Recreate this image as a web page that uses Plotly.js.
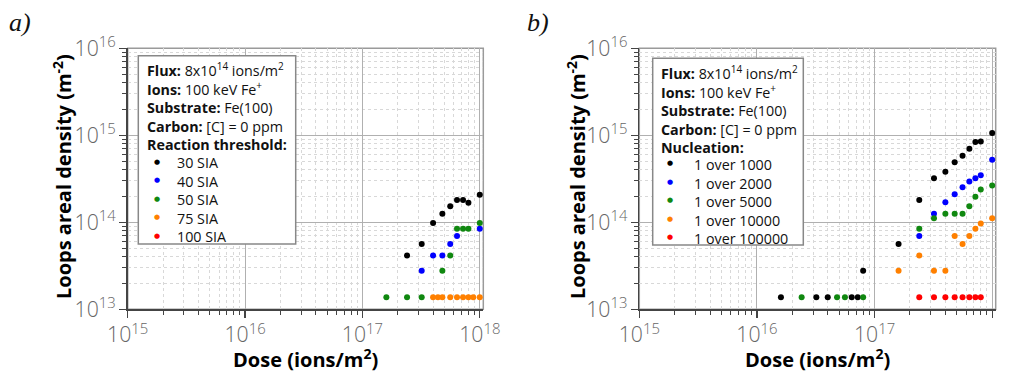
<!DOCTYPE html>
<html>
<head>
<meta charset="utf-8">
<script src="https://cdn.plot.ly/plotly-3.0.1.min.js"></script>
<style>html,body{margin:0;padding:0;background:#fff;}#chart{width:1012px;height:374px;}</style>
</head>
<body>
<div id="chart"></div>
<script>
// ---- Panel a) : reaction threshold ----
const thrNames = ["30 SIA", "40 SIA", "50 SIA", "75 SIA", "100 SIA"];
const thrDose30 = [2.4e17, 3.2e17, 4e17, 4.8e17, 5.6e17, 6.4e17, 7.2e17, 8e17, 1e18];
const thrLoops30 = [4.15e13, 5.62e13, 9.82e13, 1.257e14, 1.526e14, 1.81e14, 1.81e14, 1.68e14, 2.08e14];
const thrDose40 = [3.2e17, 4e17, 4.8e17, 5.6e17, 6.4e17, 1e18];
const thrLoops40 = [2.77e13, 4.15e13, 4.15e13, 5.62e13, 6.95e13, 8.44e13];
const thrDose50 = [1.6e17, 2.4e17, 3.2e17, 4.8e17, 5.6e17, 6.4e17, 7.2e17, 8e17, 1e18];
const thrLoops50 = [1.375e13, 1.375e13, 1.375e13, 2.77e13, 4.15e13, 8.44e13, 8.44e13, 8.44e13, 9.82e13];
const thrDose75 = [4e17, 4.4e17, 4.8e17, 5.6e17, 6.4e17, 7.2e17, 8e17, 8.8e17, 1e18];
const thrLoops75 = [1.375e13, 1.375e13, 1.375e13, 1.375e13, 1.375e13, 1.375e13, 1.375e13, 1.375e13, 1.375e13];
const thrDose100 = [];   // no visible points in panel a)
const thrLoops100 = [];
const thrHeader = ["<b>Flux:</b> 8x10<sup>14</sup> ions/m<sup>2</sup>", "<b>Ions:</b> 100 keV Fe<sup>+</sup>",
                   "<b>Substrate:</b> Fe(100)", "<b>Carbon:</b> [C] = 0 ppm", "<b>Reaction threshold:</b>"];

// ---- Panel b) : nucleation ----
const nucNames = ["1 over 1000", "1 over 2000", "1 over 5000", "1 over 10000", "1 over 100000"];
const nucDose1000 = [1.6e16, 3.2e16, 4e16, 6.4e16, 7.2e16, 8e16, 1.6e17, 2.4e17, 3.2e17, 4e17, 4.8e17, 5.6e17, 6.4e17, 7.2e17, 8e17, 1e18];
const nucLoops1000 = [1.375e13, 1.375e13, 1.375e13, 1.375e13, 1.375e13, 2.77e13, 5.62e13, 1.81e14, 3.21e14, 3.80e14, 4.91e14, 5.82e14, 7.0e14, 8.35e14, 8.51e14, 1.06e15];
const nucDose2000 = [2.4e17, 3.2e17, 4e17, 4.8e17, 5.6e17, 6.4e17, 7.2e17, 8e17, 1e18];
const nucLoops2000 = [6.95e13, 1.257e14, 1.70e14, 2.10e14, 2.53e14, 2.94e14, 3.21e14, 3.47e14, 5.23e14];
const nucDose5000 = [2.4e16, 4.8e16, 5.6e16, 8e16, 2.4e17, 3.2e17, 4e17, 4.8e17, 5.6e17, 6.4e17, 7.2e17, 8e17, 1e18];
const nucLoops5000 = [1.375e13, 1.375e13, 1.375e13, 1.375e13, 8.44e13, 1.11e14, 1.257e14, 1.257e14, 1.257e14, 1.526e14, 1.97e14, 2.38e14, 2.64e14];
const nucDose10000 = [1.6e17, 2.4e17, 3.2e17, 4e17, 4.8e17, 5.6e17, 6.4e17, 7.2e17, 8e17, 1e18];
const nucLoops10000 = [2.77e13, 4.15e13, 2.77e13, 2.77e13, 6.95e13, 5.62e13, 6.95e13, 8.44e13, 9.71e13, 1.11e14];
const nucDose100000 = [2.4e17, 3.2e17, 4e17, 4.8e17, 5.6e17, 6.4e17, 7.2e17, 8e17];
const nucLoops100000 = [1.375e13, 1.375e13, 1.375e13, 1.375e13, 1.375e13, 1.375e13, 1.375e13, 1.375e13];
const nucHeader = ["<b>Flux:</b> 8x10<sup>14</sup> ions/m<sup>2</sup>", "<b>Ions:</b> 100 keV Fe<sup>+</sup>",
                   "<b>Substrate:</b> Fe(100)", "<b>Carbon:</b> [C] = 0 ppm", "<b>Nucleation:</b>"];

const colors = ["#000000", "#0000ff", "#108810", "#ff8000", "#ff0000"];

const W = 1012, H = 374;
const FONT = "Open Sans, Noto Sans, sans-serif";

const thrX = [thrDose30, thrDose40, thrDose50, thrDose75, thrDose100];
const thrY = [thrLoops30, thrLoops40, thrLoops50, thrLoops75, thrLoops100];
const nucX = [nucDose1000, nucDose2000, nucDose5000, nucDose10000, nucDose100000];
const nucY = [nucLoops1000, nucLoops2000, nucLoops5000, nucLoops10000, nucLoops100000];

const traces = [];
thrNames.forEach((n, i) => traces.push({
  type: "scatter", mode: "markers", name: n, x: thrX[i], y: thrY[i],
  xaxis: "x", yaxis: "y", showlegend: false,
  marker: {color: colors[i], size: 6}
}));
nucNames.forEach((n, i) => traces.push({
  type: "scatter", mode: "markers", name: n, x: nucX[i], y: nucY[i],
  xaxis: "x2", yaxis: "y2", showlegend: false,
  marker: {color: colors[i], size: 6}
}));

const tickFont = {family: FONT, size: 17, color: "#666", weight: 300};
function xAxis(domain, anchor) {
  return {
    type: "log", range: [15, 18.03], domain: domain, anchor: anchor,
    dtick: 1, exponentformat: "power", tickfont: tickFont,
    showline: true, linecolor: "#444", linewidth: 1.5, mirror: false,
    ticks: "outside", ticklen: 7, tickwidth: 1.3, tickcolor: "#444",
    showgrid: true, gridcolor: "#b0b0b0", gridwidth: 1,
    minor: {dtick: "D1", ticks: "outside", ticklen: 4, tickcolor: "#444", tickwidth: 1,
            showgrid: true, gridcolor: "#d8d8d8", griddash: "dot", gridwidth: 1},
    zeroline: false, automargin: false, fixedrange: true
  };
}
function yAxis(anchor) {
  return {
    type: "log", range: [13, 16], domain: [1 - 309.3 / H, 1 - 48.3 / H], anchor: anchor,
    dtick: 1, exponentformat: "power", tickfont: tickFont,
    showline: true, linecolor: "#444", linewidth: 1.5, mirror: false,
    ticks: "outside", ticklen: 7, tickwidth: 1.3, tickcolor: "#444",
    showgrid: true, gridcolor: "#b0b0b0", gridwidth: 1,
    minor: {dtick: "D1", ticks: "outside", ticklen: 4, tickcolor: "#444", tickwidth: 1,
            showgrid: true, gridcolor: "#d8d8d8", griddash: "dot", gridwidth: 1},
    zeroline: false, automargin: false, fixedrange: true
  };
}

// Info box + key, laid out in pixels (box: [left, right, top, bottom])
const LINE = 14.3 * 1.3;   // Plotly multi-line spacing
function infoBox(box, textX, dotX, nameX, headTop, nameTop, header, names) {
  const shapes = [{type: "rect", xref: "paper", yref: "paper",
    x0: box[0] / W, x1: box[1] / W, y0: 1 - box[3] / H, y1: 1 - box[2] / H,
    fillcolor: "#ffffff", line: {color: "#888", width: 1.5}, layer: "above"}];
  const ann = [];
  ann.push({text: header.join("<br>"), xref: "paper", yref: "paper", x: textX / W, y: 1 - headTop / H,
    xanchor: "left", yanchor: "top", align: "left", borderpad: 0, showarrow: false,
    font: {family: FONT, size: 14.3, color: "#111"}});
  ann.push({text: names.join("<br>"), xref: "paper", yref: "paper", x: nameX / W, y: 1 - nameTop / H,
    xanchor: "left", yanchor: "top", align: "left", borderpad: 0, showarrow: false,
    font: {family: FONT, size: 14.3, color: "#111"}});
  names.forEach((n, i) => {
    ann.push({text: "●", xref: "paper", yref: "paper", x: dotX / W, y: 1 - (nameTop + 9.6 + i * LINE) / H,
      xanchor: "center", yanchor: "middle", borderpad: 0, showarrow: false,
      font: {family: "DejaVu Sans", size: 7, color: colors[i]}});
  });
  return {shapes, ann};
}
const boxA = infoBox([138.3, 295.7, 55.7, 244], 145.5, 156.7, 176, 58, 152, thrHeader, thrNames);
const boxB = infoBox([652.7, 803.3, 58.3, 245], 660, 670, 693, 60.5, 153.5, nucHeader, nucNames);

const layout = {
  width: W, height: H,
  margin: {l: 0, r: 0, t: 0, b: 0},
  paper_bgcolor: "#fff", plot_bgcolor: "#fff",
  showlegend: false,
  xaxis: xAxis([127.7 / W, 483.3 / W], "y"),
  yaxis: yAxis("x"),
  xaxis2: xAxis([639.3 / W, 995.7 / W], "y2"),
  yaxis2: yAxis("x2"),
  shapes: [
    {type: "rect", xref: "x domain", yref: "y domain", x0: 0, x1: 1, y0: 0, y1: 1,
     line: {color: "#9a9a9a", width: 1.5}, layer: "below"},
    {type: "rect", xref: "x2 domain", yref: "y2 domain", x0: 0, x1: 1, y0: 0, y1: 1,
     line: {color: "#9a9a9a", width: 1.5}, layer: "below"}
  ].concat(boxA.shapes, boxB.shapes),
  annotations: [
    {text: "<i>a)</i>", xref: "paper", yref: "paper", x: 7 / W, y: 1 - 6 / H, xanchor: "left", yanchor: "top",
     showarrow: false, font: {family: "Liberation Serif, DejaVu Serif, serif", size: 26, color: "#111"}},
    {text: "<i>b)</i>", xref: "paper", yref: "paper", x: 525 / W, y: 1 - 6 / H, xanchor: "left", yanchor: "top",
     showarrow: false, font: {family: "Liberation Serif, DejaVu Serif, serif", size: 26, color: "#111"}},
    {text: "<b>Dose (ions/m<sup>2</sup>)</b>", xref: "paper", yref: "paper", x: 305.5 / W, y: 1 - 358 / H,
     xanchor: "center", yanchor: "middle", showarrow: false, font: {family: FONT, size: 20, color: "#000"}},
    {text: "<b>Dose (ions/m<sup>2</sup>)</b>", xref: "paper", yref: "paper", x: 817.5 / W, y: 1 - 358 / H,
     xanchor: "center", yanchor: "middle", showarrow: false, font: {family: FONT, size: 20, color: "#000"}},
    {text: "<b>Loops areal density (m<sup>-2</sup>)</b>", xref: "paper", yref: "paper", x: 62 / W, y: 1 - 177 / H,
     xanchor: "center", yanchor: "middle", textangle: -90, showarrow: false, font: {family: FONT, size: 20, color: "#000"}},
    {text: "<b>Loops areal density (m<sup>-2</sup>)</b>", xref: "paper", yref: "paper", x: 576 / W, y: 1 - 177 / H,
     xanchor: "center", yanchor: "middle", textangle: -90, showarrow: false, font: {family: FONT, size: 20, color: "#000"}}
  ].concat(boxA.ann, boxB.ann)
};

Plotly.newPlot("chart", traces, layout, {displayModeBar: false, staticPlot: true});
</script>
</body>
</html>
